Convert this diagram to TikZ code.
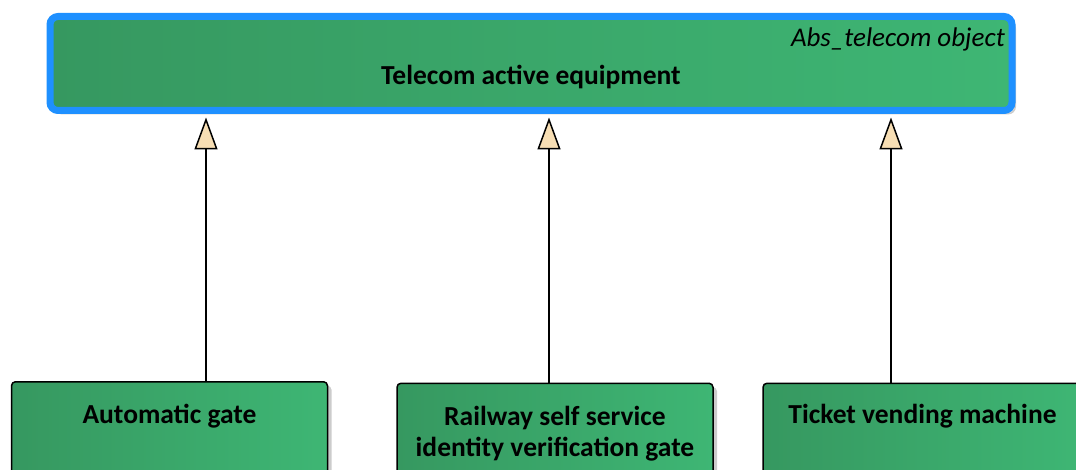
\documentclass[tikz,border=0pt]{standalone}
\usepackage{fontspec}
\setmainfont{Carlito}
\usepackage{tikz}
\usetikzlibrary{arrows.meta,shadows}

\definecolor{eagreen1}{RGB}{54,152,96}
\definecolor{eagreen2}{RGB}{62,182,116}
\definecolor{eablue}{RGB}{30,144,255}
\definecolor{tipfill}{RGB}{247,222,180}

\begin{document}
\begin{tikzpicture}[x=1pt,y=-1pt]
    \tikzset{
    classbox/.style={
        draw,
        line width=1.5pt,
        rounded corners=4pt,
        left color=eagreen1,
        right color=eagreen2,
        drop shadow={shadow xshift=4pt,shadow yshift=-4pt,fill=black!20,opacity=1},
        minimum width=316pt,
        minimum height=120pt,
        anchor=north
    },
    abstractbox/.style={
        classbox,
        draw=eablue,
        line width=7pt,
        rounded corners=8pt,
        drop shadow={shadow xshift=3pt,shadow yshift=-3pt,fill=black!15,opacity=1},
        minimum width=962pt,
        minimum height=94pt,
        anchor=center
    },
    title/.style={
        inner sep=0pt,
        anchor=base,
        align=center,
        font=\fontsize{27.5}{31.7}\selectfont\bfseries
    },
    generalization/.style={
        line width=2pt,
        -{Triangle[open,length=32pt,width=23pt,fill=tipfill,line width=1.5pt]},
        shorten >=3.5pt
    }
}
        \clip (0,0) rectangle (1076,470);
        \useasboundingbox (0,0) rectangle (1076,470);

        \node[abstractbox] (Equipment) at (531,63.5) {};
        \node[inner sep=0pt, anchor=base east, font=\fontsize{27}{30}\selectfont\itshape]
            (Stereotype) at (1005,47) {Abs\_telecom object};
        \node[title] (EquipmentText) at (531,85) {Telecom active equipment};

        \node[classbox] (Gate) at (169.5,381) {};
        \node[title] (GateText) at (169.5,423) {Automatic gate};

        \node[classbox] (IdGate) at (555,382.5) {};
        % base anchor sits on the last line here
        \node[title] (IdGateText) at (555,456.7) {Railway self service\\identity verification gate};

        \node[classbox, minimum width=318pt] (Vending) at (922,382.5) {};
        \node[title] (VendingText) at (922.5,423.5) {Ticket vending machine};

        \draw [generalization] ([xshift=36.5pt]Gate.north) -- ([xshift=36.5pt]Gate.north |- Equipment.south);
        \draw [generalization] ([xshift=-6pt]IdGate.north) -- ([xshift=-6pt]IdGate.north |- Equipment.south);
        \draw [generalization] ([xshift=-31pt]Vending.north) -- ([xshift=-31pt]Vending.north |- Equipment.south);
    \end{tikzpicture}
\end{document}
